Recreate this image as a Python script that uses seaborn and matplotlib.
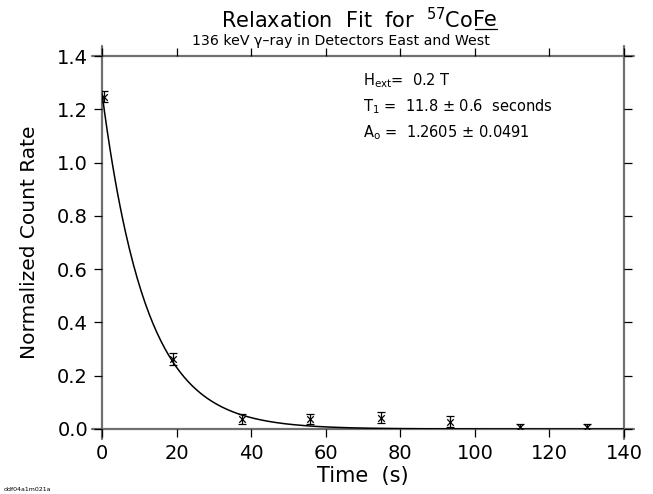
import matplotlib
matplotlib.use("Agg")
import matplotlib.pyplot as plt
import seaborn as sns
import numpy as np
import pandas as pd
from matplotlib.lines import Line2D

# data
time_s = [0.5, 19.0, 37.5, 55.8, 74.8, 93.3, 112.0, 130.0]
rate = [1.248, 0.262, 0.037, 0.037, 0.043, 0.028, 0.008, 0.008]
rate_err = [0.022, 0.022, 0.020, 0.019, 0.020, 0.020, 0.012, 0.012]

# fit parameters (shown in annotation)
A0 = 1.2605
T1 = 11.8

xticks = [0, 20, 40, 60, 80, 100, 120, 140]
yticks = [0.0, 0.2, 0.4, 0.6, 0.8, 1.0, 1.2, 1.4]

sns.set_theme(style="white")
plt.rcParams['font.family'] = ['DejaVu Sans']
plt.rcParams['text.color'] = 'black'
plt.rcParams['axes.labelcolor'] = 'black'
plt.rcParams['xtick.color'] = 'black'
plt.rcParams['ytick.color'] = 'black'

fig = plt.figure(figsize=(6.53, 4.94), dpi=100)
ax = fig.add_axes([0.1562, 0.1316, 0.7994, 0.755])

t_fit = np.linspace(0, 140, 400)
fit_df = pd.DataFrame({"t": t_fit, "y": A0 * np.exp(-t_fit / T1)})
sns.lineplot(data=fit_df, x="t", y="y", ax=ax, color="black", lw=1.1)

pts = pd.DataFrame({"t": time_s, "y": rate})
ax.errorbar(time_s, rate, yerr=rate_err, fmt="none", ecolor="black",
            elinewidth=0.9, capsize=3, capthick=0.9)
sns.scatterplot(data=pts, x="t", y="y", ax=ax, marker="x", color="black",
                s=22, linewidth=0.9)

ax.set_xlim(0, 140)
ax.set_ylim(0, 1.4)
ax.set_xticks(xticks)
ax.set_yticks(yticks)
ax.set_xticklabels([str(v) for v in xticks])
ax.set_yticklabels([f"{v:.1f}" for v in yticks])

for s in ax.spines.values():
    s.set_visible(False)

gray = "#707070"
ex = 0.019
ey = 0.026
lines = [
    ([0 - ex, 1 + ex], [0, 0]),
    ([0 - ex, 1 + ex], [1, 1]),
    ([0, 0], [0 - ey, 1 + ey]),
    ([1, 1], [0 - ey, 1 + ey]),
]
for xs, ys in lines:
    ax.add_line(Line2D(xs, ys, transform=ax.transAxes, color=gray, lw=1.6,
                       clip_on=False, zorder=0.5))

ax.tick_params(axis="both", which="major", direction="out", length=6,
               width=0.9, color="black", labelsize=14, pad=4,
               labelcolor="black",
               top=True, right=True, bottom=True, left=True,
               labeltop=False, labelright=False)
ax.tick_params(axis="x", pad=5)

ax.set_xlabel("Time  (s)", fontsize=15, labelpad=2, color="black")
ax.set_ylabel("Normalized Count Rate", fontsize=14.5, labelpad=13, color="black")

t1 = fig.text(0.5, 0.96, "Relaxation  Fit  for  $^{57}$Co",
              ha="left", va="center", fontsize=15, color="black")
t2 = fig.text(0.5, 0.96, "Fe", ha="left", va="center", fontsize=15, color="black")
fig.text(0.522, 0.918, "136 keV \u03b3\u2013ray in Detectors East and West",
         ha="center", va="center", fontsize=10.2, color="black")

# center the composite title and underline "Fe"
fig.canvas.draw()
r = fig.canvas.get_renderer()
b1 = t1.get_window_extent(r)
b2 = t2.get_window_extent(r)
W = fig.bbox.width
total = b1.width + b2.width
x0 = 0.55 - total / 2 / W
t1.set_x(x0)
t2.set_x(x0 + b1.width / W)
fig.canvas.draw()
b2 = t2.get_window_extent(r)
uy = (b2.y0 + 1) / fig.bbox.height
fig.add_artist(Line2D([b2.x0 / W + 0.002, b2.x1 / W], [uy, uy],
                      transform=fig.transFigure, color="black", lw=0.9))

ax.text(0.5, 0.935, "H$_{\\mathrm{ext}}$=  0.2 T", transform=ax.transAxes,
        fontsize=10.5, va="center", color="black")
ax.text(0.5, 0.865, "T$_{\\mathrm{1}}$ =  11.8 \u00b1 0.6  seconds", transform=ax.transAxes,
        fontsize=10.5, va="center", color="black")
ax.text(0.5, 0.795, "A$_{\\mathrm{o}}$ =  1.2605 \u00b1 0.0491", transform=ax.transAxes,
        fontsize=10.5, va="center", color="black")

fig.text(0.005, 0.005, "ddf04a1m021a", fontsize=4.5, ha="left", va="bottom",
         color="black")

fig.savefig("out.png", dpi=100)
